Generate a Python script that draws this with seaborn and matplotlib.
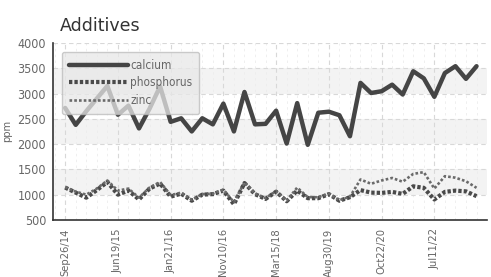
import matplotlib
matplotlib.use("Agg")
import matplotlib.pyplot as plt
import seaborn as sns
import pandas as pd
import numpy as np
from matplotlib.ticker import MultipleLocator

calcium = [2715, 2380, 2650, 2900, 3150, 2580, 2760, 2310, 2700, 3140,
           2440, 2510, 2250, 2510, 2390, 2800, 2250, 3030, 2390, 2400,
           2660, 2010, 2810, 1985, 2620, 2640, 2570, 2155, 3210, 3010,
           3045, 3175, 2980, 3440, 3300, 2935, 3405, 3540, 3290, 3540]
phosphorus = [1140, 1040, 940, 1090, 1250, 1000, 1080, 905, 1120, 1220,
              960, 1020, 880, 1000, 1010, 1080, 810, 1230, 1010, 915,
              1060, 870, 1080, 930, 930, 1010, 880, 950, 1090, 1040,
              1035, 1055, 1015, 1165, 1135, 905, 1055, 1080, 1065, 970]
zinc = [1150, 1060, 1000, 1120, 1280, 1080, 1120, 940, 1140, 1250,
        990, 1040, 900, 1010, 1020, 1100, 850, 1240, 1020, 930,
        1070, 880, 1140, 950, 950, 1020, 890, 960, 1300, 1215,
        1280, 1330, 1255, 1410, 1445, 1120, 1365, 1335, 1265, 1135]
tick_labels = ["Sep26/14", "Jun19/15", "Jan21/16", "Nov10/16",
               "Mar15/18", "Aug30/19", "Oct22/20", "Jul11/22"]

sns.set_style("white")
plt.rcParams['font.family'] = ['DejaVu Sans']
plt.rcParams['font.stretch'] = 'condensed'

idx = np.arange(len(calcium))
df = pd.DataFrame({"sample": idx, "calcium": calcium,
                   "phosphorus": phosphorus, "zinc": zinc})

fig = plt.figure(figsize=(4.91, 2.77), dpi=100)
ax = fig.add_axes([0.108, 0.206, 0.884, 0.639])

# background bands
for lo in (1000, 2000, 3000):
    ax.axhspan(lo, lo + 500, color="#f3f3f3", zorder=0, lw=0)

sns.lineplot(data=df, x="sample", y="calcium", ax=ax, color="#454545",
             lw=3.2, label="calcium", zorder=3)
sns.lineplot(data=df, x="sample", y="phosphorus", ax=ax, color="#4a4a4a",
             lw=3.0, linestyle=(0, (0.8, 0.5)), label="phosphorus", zorder=3)
sns.lineplot(data=df, x="sample", y="zinc", ax=ax, color="#6a6a6a",
             lw=1.9, linestyle=(0, (1.0, 0.8)), label="zinc", zorder=3)

ax.set_xlim(-1.15, 40.0)
ax.set_ylim(500, 4000)
ax.yaxis.set_major_locator(MultipleLocator(500))
ax.set_xticks(idx[::5][:len(tick_labels)])
ax.set_xticklabels(tick_labels, rotation=90, va="top", ha="center")
ax.xaxis.set_minor_locator(MultipleLocator(1))

ax.grid(True, which="major", axis="both", color="#d8d8d8", ls=(0, (4, 3)), lw=0.8, zorder=1)
ax.grid(True, which="minor", axis="x", color="#ececec", ls=(0, (3, 4)), lw=0.6, zorder=1)
ax.set_axisbelow(True)

for s in ("top", "right"):
    ax.spines[s].set_visible(False)
for s in ("left", "bottom"):
    ax.spines[s].set_color("#333333")
    ax.spines[s].set_linewidth(1.2)

ax.tick_params(axis="both", which="major", direction="out", length=4, width=1.2,
               color="#333333", labelcolor="#666666", labelsize=9, pad=1)
ax.tick_params(axis="x", which="minor", direction="out", length=2.5, width=0.8,
               color="#555555")
ax.tick_params(axis="x", which="major", pad=2, labelsize=8)

ax.set_xlabel("")
ax.set_ylabel("ppm", color="#666666", fontsize=8, labelpad=4)

fig.text(0.122, 0.905, "Additives", fontsize=12.5, color="#333333",
         ha="left", va="center", fontstretch="normal")

leg = ax.legend(loc="upper left", bbox_to_anchor=(0.02, 0.95), fontsize=8.5,
                handlelength=5.0, handletextpad=0.2, labelspacing=0.38,
                borderpad=0.6, borderaxespad=0, frameon=True, fancybox=True,
                framealpha=0.75)
leg.get_frame().set_facecolor("#e8e8e8")
leg.get_frame().set_edgecolor("#bbbbbb")
for t in leg.get_texts():
    t.set_color("#666666")

fig.savefig("out.png", dpi=100)
